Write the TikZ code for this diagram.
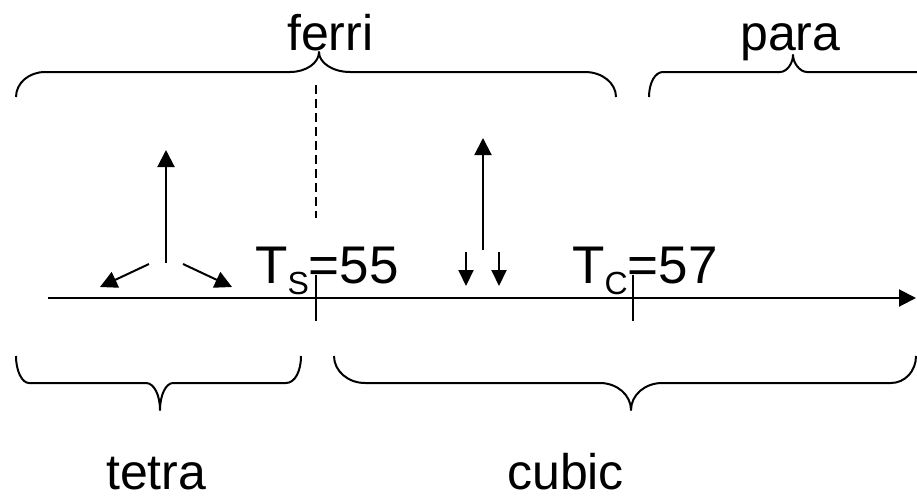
\documentclass[tikz,border=0pt]{standalone}
\usepackage{fontspec}
\setmainfont{Liberation Sans}
\usetikzlibrary{arrows.meta}
\newcommand{\subtxt}[1]{\raisebox{-11pt}{\fontsize{32}{32}\selectfont #1}}
\begin{document}
\begin{tikzpicture}[x=1pt,y=-1pt,
  line/.style={line width=2pt, black},
  brace/.style={line width=2pt, black, line join=round},
  bigarrow/.style={line width=2pt, -{Triangle[length=17pt,width=17pt]}},
  smallarrow/.style={line width=2pt, -{Triangle[length=16pt,width=15pt]}},
  lbl/.style={inner sep=0pt, anchor=base west, text depth=0pt, font=\fontsize{50}{50}\selectfont},
  tlbl/.style={inner sep=0pt, anchor=base west, font=\fontsize{53}{53}\selectfont}]
\useasboundingbox (0,0) rectangle (917,501);
% labels
\node[lbl] (ferri) at (287,50) {ferri};
\node[lbl] (para) at (740,50) {para};
\node[lbl] (tetra) at (106,489) {tetra};
\node[lbl] (cubic) at (507,489) {cubic};
\node[tlbl] (ts) at (255,283) {T\subtxt{S}=55};
\node[tlbl] (tc) at (572,283) {T\subtxt{C}=57};
% top braces
\draw[brace] (16,97) .. controls (16,83) and (29,72) .. (45,72) -- (290,72)
  .. controls (306,72) and (319,63) .. (319,52)
  .. controls (319,63) and (333,72) .. (350,72) -- (585,72)
  .. controls (602,72) and (616,83) .. (616,97);
\draw[brace] (649,97) .. controls (649,83) and (655,72) .. (663,72) -- (780,72)
  .. controls (787,72) and (793,63) .. (793,55)
  .. controls (793,63) and (800,72) .. (807,72) -- (917,72);
% bottom braces
\draw[brace] (16,356) .. controls (16,371) and (22,383) .. (29,383) -- (146,383)
  .. controls (154,383) and (160,395) .. (160,410)
  .. controls (160,395) and (166,383) .. (173,383) -- (286,383)
  .. controls (295,383) and (301,371) .. (301,356);
\draw[brace] (334,356) .. controls (334,371) and (348,383) .. (365,383) -- (600,383)
  .. controls (617,383) and (631,395) .. (631,410)
  .. controls (631,395) and (645,383) .. (662,383) -- (891,383)
  .. controls (905,383) and (916,371) .. (916,356);
% dashed line
\coordinate (d1) at (316,85);
\coordinate (d2) at (316,218);
\draw[line width=2pt, dash pattern=on 9pt off 5pt] (d1) -- (d2);
% axis
\coordinate (a0) at (48,298);
\coordinate (a1) at (916,298);
\draw[bigarrow] (a0) -- (a1);
% ticks
\coordinate (s1) at (316,275); \coordinate (s2) at (316,321);
\coordinate (c1) at (633,275); \coordinate (c2) at (633,321);
\draw[line] (s1) -- (s2);
\draw[line] (c1) -- (c2);
% tetra spins
\coordinate (v0) at (166,263); \coordinate (v1) at (166,150);
\coordinate (l0) at (149,264); \coordinate (l1) at (100,287);
\coordinate (r0) at (183,264); \coordinate (r1) at (232,287);
\draw[bigarrow] (v0) -- (v1);
\draw[bigarrow] (l0) -- (l1);
\draw[bigarrow] (r0) -- (r1);
% cubic spins
\coordinate (u0) at (483,250); \coordinate (u1) at (483,138);
\coordinate (p0) at (466,252); \coordinate (p1) at (466,286);
\coordinate (q0) at (499,252); \coordinate (q1) at (499,286);
\draw[bigarrow] (u0) -- (u1);
\draw[smallarrow] (p0) -- (p1);
\draw[smallarrow] (q0) -- (q1);
\end{tikzpicture}
\end{document}
